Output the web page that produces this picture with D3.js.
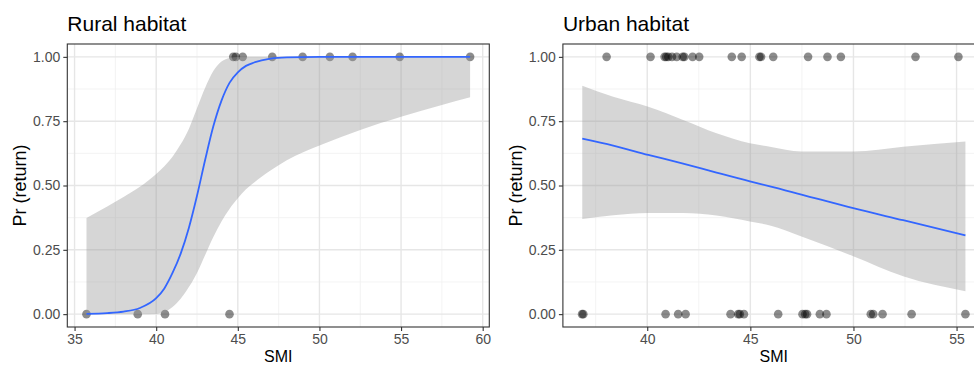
<!DOCTYPE html>
<html>
<head>
<meta charset="utf-8">
<script src="https://cdn.jsdelivr.net/npm/d3@7"></script>
<style>
  html, body { margin: 0; padding: 0; background: #ffffff; }
  svg { display: block; font-family: "Liberation Sans", Arial, sans-serif; }
</style>
</head>
<body>
<svg id="chart" width="974" height="367"></svg>
<script>
// ---------------- DATA ----------------
const panelTitles = ["Rural habitat", "Urban habitat"];
const xAxisTitle = "SMI";
const yAxisTitle = "Pr (return)";
const yTicks = [0, 0.25, 0.5, 0.75, 1];
const yTickLabels = ["0.00", "0.25", "0.50", "0.75", "1.00"];
const ruralXTicks = [35, 40, 45, 50, 55, 60];
const urbanXTicks = [40, 45, 50, 55];

// observed points (SMI, return 0/1)
const ruralSMI    = [35.73, 38.87, 40.54, 44.49, 44.72, 44.88, 45.30, 47.11, 48.97, 50.64, 52.03, 54.92, 59.23];
const ruralReturn = [0, 0, 0, 0, 1, 1, 1, 1, 1, 1, 1, 1, 1];

const urbanSMI = [38.03, 40.16, 40.84, 40.92, 41.02, 41.20, 41.43, 41.72, 41.80, 42.20, 42.52, 44.10, 44.58, 45.44, 45.52, 46.11, 47.80, 48.74, 49.39, 53.01, 55.09,
                  36.84, 36.90, 40.89, 41.50, 41.86, 44.04, 44.41, 44.49, 44.69, 46.35, 47.53, 47.66, 47.75, 48.37, 48.69, 50.84, 50.96, 51.41, 52.82, 55.43];
const urbanReturn = [1, 1, 1, 1, 1, 1, 1, 1, 1, 1, 1, 1, 1, 1, 1, 1, 1, 1, 1, 1, 1,
                     0, 0, 0, 0, 0, 0, 0, 0, 0, 0, 0, 0, 0, 0, 0, 0, 0, 0, 0, 0];

// fitted curves and confidence band
const ruralFitSMI = [35.73, 37, 38, 39, 40, 40.5, 41, 41.5, 42, 42.5, 43, 43.5, 44, 44.5, 45, 45.5, 46, 47, 48, 50, 52.5, 55, 57.5, 59.23];
const ruralFit    = [0.001, 0.004, 0.01, 0.024, 0.062, 0.1, 0.16, 0.235, 0.335, 0.46, 0.60, 0.73, 0.83, 0.90, 0.94, 0.965, 0.978, 0.993, 0.998, 1, 1, 1, 1, 1];
const ruralUpper  = [0.374, 0.418, 0.455, 0.495, 0.545, 0.575, 0.612, 0.66, 0.72, 0.80, 0.88, 0.945, 0.982, 0.996, 0.999, 1, 1, 1, 1, 1, 1, 1, 1, 1];
const ruralLower  = [0, 0, 0, 0, 0.001, 0.008, 0.028, 0.06, 0.105, 0.16, 0.23, 0.30, 0.36, 0.41, 0.45, 0.485, 0.512, 0.558, 0.598, 0.655, 0.716, 0.767, 0.813, 0.843];

const urbanFitSMI = [36.85, 38.35, 40.05, 41.74, 43.36, 44.98, 45.95, 47.48, 49.99, 52.41, 55.43];
const urbanFit    = [0.682, 0.655, 0.619, 0.585, 0.55, 0.516, 0.497, 0.465, 0.412, 0.365, 0.306];
const urbanUpper  = [0.888, 0.845, 0.806, 0.755, 0.703, 0.664, 0.651, 0.632, 0.632, 0.651, 0.671];
const urbanLower  = [0.37, 0.384, 0.393, 0.393, 0.383, 0.36, 0.345, 0.302, 0.225, 0.147, 0.089];

// ---------------- LAYOUT ----------------
const svg = d3.select("#chart");
const pTop = 44, pBottom = 327;

const panels = [
  { title: panelTitles[0], x0: 67.3, x1: 489.3, smi: ruralSMI, ret: ruralReturn,
    fitX: ruralFitSMI, fit: ruralFit, lo: ruralLower, hi: ruralUpper, xticks: ruralXTicks,
    minor: [37.5, 42.5, 47.5, 52.5, 57.5], ylabX: 20 },
  { title: panelTitles[1], x0: 562.9, x1: 984.6, smi: urbanSMI, ret: urbanReturn,
    fitX: urbanFitSMI, fit: urbanFit, lo: urbanLower, hi: urbanUpper, xticks: urbanXTicks,
    minor: [37.5, 42.5, 47.5, 52.5], ylabX: 515.5 }
];

const y = d3.scaleLinear().domain([-0.05, 1.05]).range([pBottom, pTop]);
const yMinor = [0.125, 0.375, 0.625, 0.875];

panels.forEach((p, i) => {
  const ext = d3.extent(p.smi);
  const pad = (ext[1] - ext[0]) * 0.05;
  const x = d3.scaleLinear().domain([ext[0] - pad, ext[1] + pad]).range([p.x0, p.x1]);
  const g = svg.append("g");

  const clipId = "clip" + i;
  svg.append("clipPath").attr("id", clipId)
    .append("rect").attr("x", p.x0).attr("y", pTop).attr("width", p.x1 - p.x0).attr("height", pBottom - pTop);

  const grid = g.append("g").attr("clip-path", `url(#${clipId})`);
  grid.selectAll(".mx").data(p.minor).enter().append("line")
    .attr("x1", d => x(d)).attr("x2", d => x(d)).attr("y1", pTop).attr("y2", pBottom)
    .attr("stroke", "#f0f0f0").attr("stroke-width", 0.8);
  grid.selectAll(".my").data(yMinor).enter().append("line")
    .attr("x1", p.x0).attr("x2", p.x1).attr("y1", d => y(d)).attr("y2", d => y(d))
    .attr("stroke", "#f0f0f0").attr("stroke-width", 0.8);
  grid.selectAll(".Mx").data(p.xticks).enter().append("line")
    .attr("x1", d => x(d)).attr("x2", d => x(d)).attr("y1", pTop).attr("y2", pBottom)
    .attr("stroke", "#e6e6e6").attr("stroke-width", 1.4);
  grid.selectAll(".My").data(yTicks).enter().append("line")
    .attr("x1", p.x0).attr("x2", p.x1).attr("y1", d => y(d)).attr("y2", d => y(d))
    .attr("stroke", "#e6e6e6").attr("stroke-width", 1.4);

  const plot = g.append("g").attr("clip-path", `url(#${clipId})`);

  plot.selectAll("circle").data(p.smi.map((s, k) => [s, p.ret[k]])).enter().append("circle")
    .attr("cx", d => x(d[0])).attr("cy", d => y(d[1])).attr("r", 4.3)
    .attr("fill", "#000").attr("fill-opacity", 0.45);

  const band = p.fitX.map((s, k) => [s, p.lo[k], p.hi[k]]);
  plot.append("path").datum(band)
    .attr("d", d3.area().x(d => x(d[0])).y0(d => y(d[1])).y1(d => y(d[2])).curve(d3.curveMonotoneX))
    .attr("fill", "#999999").attr("fill-opacity", 0.4);

  plot.append("path").datum(p.fitX.map((s, k) => [s, p.fit[k]]))
    .attr("d", d3.line().x(d => x(d[0])).y(d => y(d[1])).curve(d3.curveMonotoneX))
    .attr("fill", "none").attr("stroke", "#3366FF").attr("stroke-width", 1.8);

  g.append("rect").attr("x", p.x0).attr("y", pTop).attr("width", p.x1 - p.x0).attr("height", pBottom - pTop)
    .attr("fill", "none").attr("stroke", "#333333").attr("stroke-width", 1.1);

  const xAxis = d3.axisBottom(x).tickValues(p.xticks).tickSize(4).tickPadding(3).tickFormat(d3.format("d"));
  const xa = g.append("g").attr("transform", `translate(0,${pBottom})`).call(xAxis);
  const yAxis = d3.axisLeft(y).tickValues(yTicks).tickSize(4).tickPadding(3)
    .tickFormat((d, k) => yTickLabels[k]);
  const ya = g.append("g").attr("transform", `translate(${p.x0},0)`).call(yAxis);
  [xa, ya].forEach(a => {
    a.select(".domain").remove();
    a.selectAll(".tick line").attr("stroke", "#333333").attr("stroke-width", 1.1);
    a.selectAll(".tick text").attr("fill", "#4d4d4d").style("font-size", "14px")
      .style("font-family", "'Liberation Sans', Arial, sans-serif");
  });

  g.append("text").attr("x", p.x0).attr("y", 31).text(p.title)
    .attr("fill", "#000").style("font-size", "21px");
  g.append("text").attr("x", (p.x0 + p.x1) / 2).attr("y", 362)
    .attr("text-anchor", "middle").text(xAxisTitle).attr("fill", "#000").style("font-size", "16px");
  g.append("text").attr("transform", `translate(${p.ylabX + 6},${(pTop + pBottom) / 2}) rotate(-90)`)
    .attr("text-anchor", "middle").text(yAxisTitle).attr("fill", "#000").style("font-size", "18px");
});
</script>
</body>
</html>
